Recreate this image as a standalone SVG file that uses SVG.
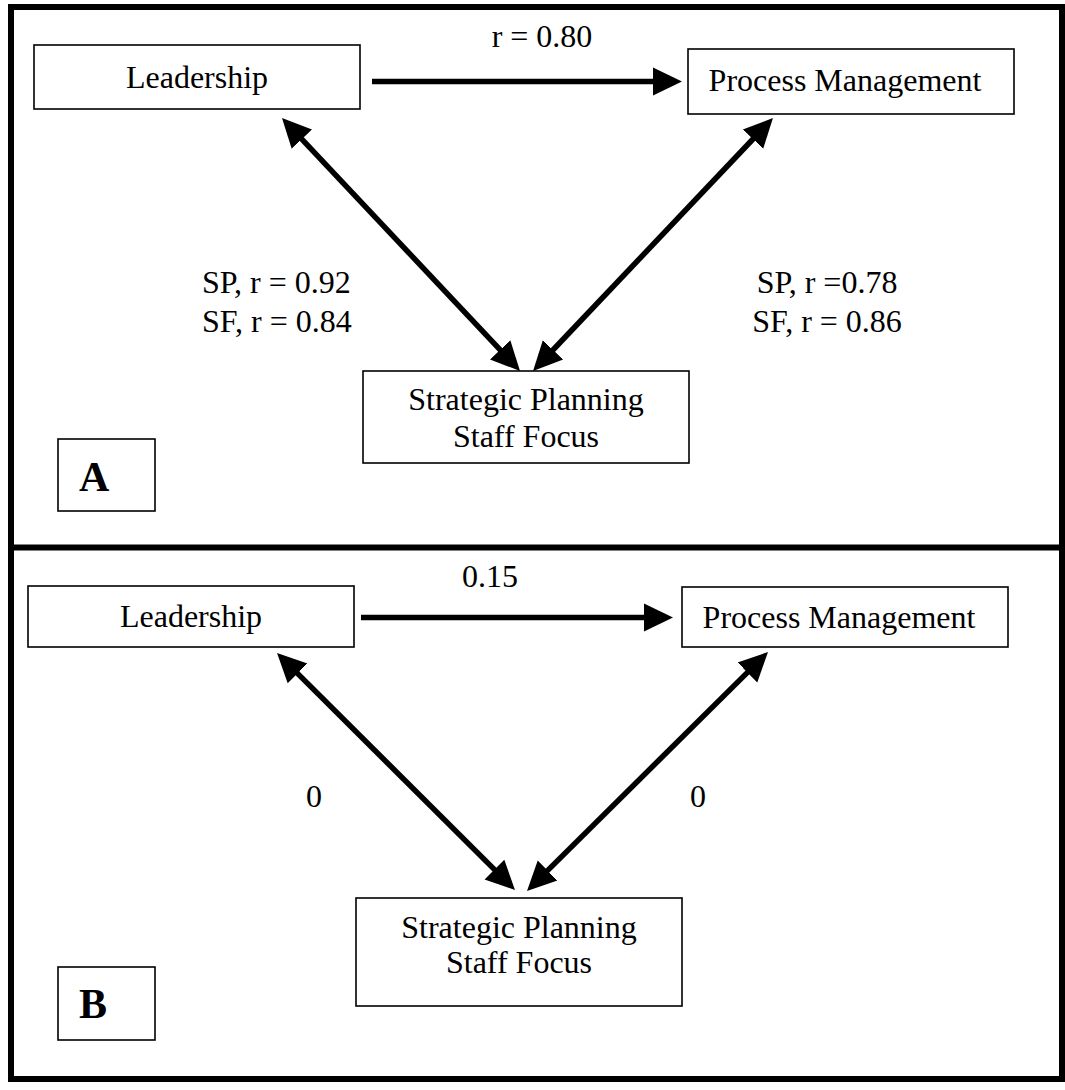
<svg xmlns="http://www.w3.org/2000/svg" width="1065" height="1090" viewBox="0 0 1065 1090">
  <style>
    .box { fill: #fff; stroke: #000; stroke-width: 1.6; }
    .frame { fill: none; stroke: #000; stroke-width: 6; }
    .txt { font-family: "Liberation Serif", "Times New Roman", serif; font-size: 32px; fill: #000; }
    .mid { text-anchor: middle; }
    .tag { font-family: "Liberation Serif", "Times New Roman", serif; font-size: 42px; font-weight: bold; fill: #000; }
    .conn { fill: none; stroke: #000; stroke-width: 5.5; }
  </style>
  <defs>
    <marker id="head" markerUnits="userSpaceOnUse" viewBox="0 0 30 30" markerWidth="30" markerHeight="30" refX="9" refY="15" orient="auto-start-reverse">
      <path d="M0,1 L29,15 L0,29 z" fill="#000"/>
    </marker>
  </defs>

  <rect width="1065" height="1090" fill="#fff"/>

  <!-- outer frame and panel divider -->
  <g id="frame">
    <rect class="frame" x="11" y="7" width="1051" height="1072"/>
    <line x1="11" y1="547.5" x2="1062" y2="547.5" stroke="#000" stroke-width="6"/>
  </g>

  <!-- panel A -->
  <g id="a-leadership">
    <rect class="box" x="34" y="45" width="326" height="64"/>
    <text class="txt mid" x="197" y="88">Leadership</text>
  </g>
  <g id="a-process">
    <rect class="box" x="688" y="49" width="326" height="65"/>
    <text class="txt mid" x="845" y="91">Process Management</text>
  </g>
  <g id="a-strategic">
    <rect class="box" x="363" y="371" width="326" height="92"/>
    <text class="txt mid" x="526" y="410">Strategic Planning</text>
    <text class="txt mid" x="526" y="447">Staff Focus</text>
  </g>
  <g id="a-tag">
    <rect class="box" x="58" y="439" width="97" height="72"/>
    <text class="tag" x="79" y="491">A</text>
  </g>

  <!-- panel B -->
  <g id="b-leadership">
    <rect class="box" x="28" y="586" width="326" height="61"/>
    <text class="txt mid" x="191" y="627">Leadership</text>
  </g>
  <g id="b-process">
    <rect class="box" x="682" y="587" width="326" height="60"/>
    <text class="txt mid" x="839" y="628">Process Management</text>
  </g>
  <g id="b-strategic">
    <rect class="box" x="356" y="898" width="326" height="108"/>
    <text class="txt mid" x="519" y="938">Strategic Planning</text>
    <text class="txt mid" x="519" y="973">Staff Focus</text>
  </g>
  <g id="b-tag">
    <rect class="box" x="58" y="967" width="97" height="73"/>
    <text class="tag" x="79" y="1018">B</text>
  </g>

  <!-- connectors -->
  <g id="connectors">
    <line class="conn" x1="372" y1="81.5" x2="662" y2="81.5" marker-end="url(#head)"/>
    <line class="conn" x1="295.7" y1="132.6" x2="506.3" y2="356.4" marker-start="url(#head)" marker-end="url(#head)"/>
    <line class="conn" x1="759.2" y1="132.5" x2="546.8" y2="356.5" marker-start="url(#head)" marker-end="url(#head)"/>

    <line class="conn" x1="361" y1="617.5" x2="653" y2="617.5" marker-end="url(#head)"/>
    <line class="conn" x1="291.2" y1="667.1" x2="500.8" y2="875.9" marker-start="url(#head)" marker-end="url(#head)"/>
    <line class="conn" x1="753.8" y1="666.1" x2="541.2" y2="876.9" marker-start="url(#head)" marker-end="url(#head)"/>
  </g>

  <!-- connector labels -->
  <g id="labels">
    <text class="txt mid" x="542" y="47">r = 0.80</text>
    <text class="txt" x="202" y="293">SP, r = 0.92</text>
    <text class="txt" x="202" y="332">SF, r = 0.84</text>
    <text class="txt mid" x="827" y="293">SP, r =0.78</text>
    <text class="txt mid" x="827" y="332">SF, r = 0.86</text>

    <text class="txt mid" x="490" y="587">0.15</text>
    <text class="txt mid" x="314" y="807">0</text>
    <text class="txt mid" x="698" y="807">0</text>
  </g>
</svg>
